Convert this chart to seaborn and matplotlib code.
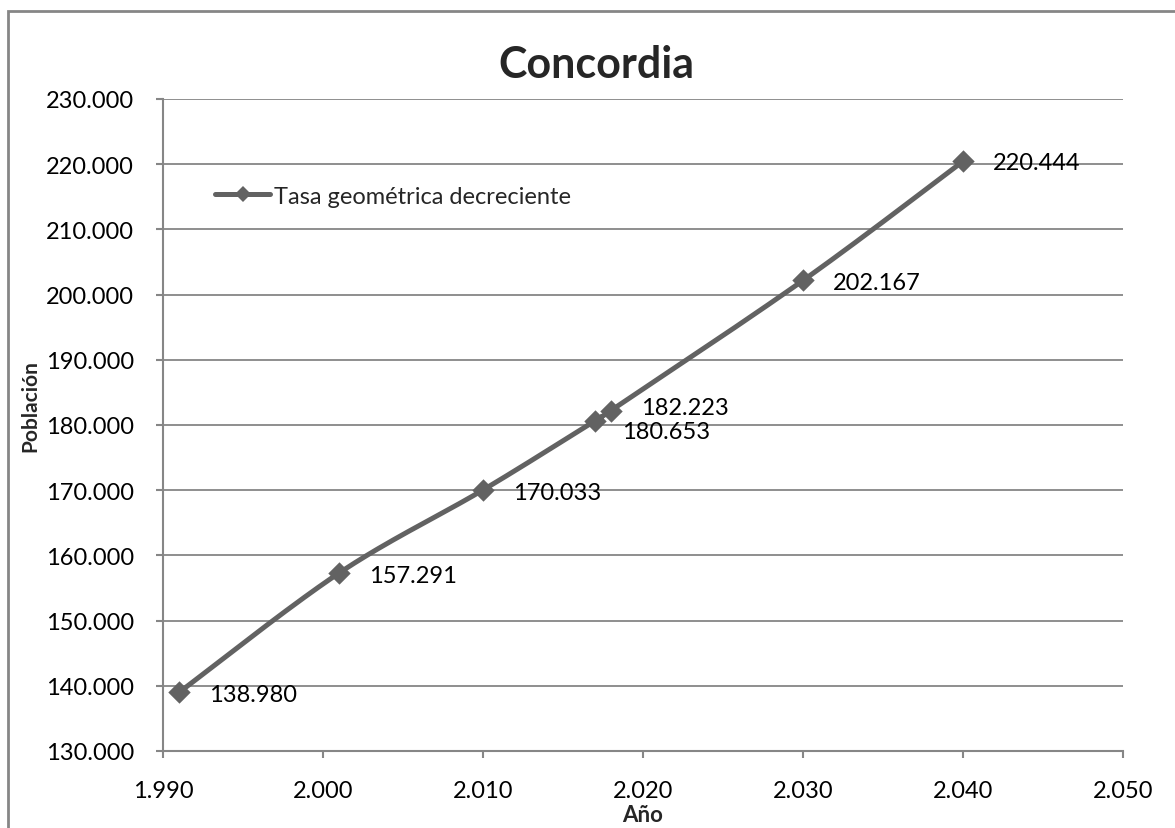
import numpy as np
import pandas as pd
import matplotlib
matplotlib.use("Agg")
import matplotlib.pyplot as plt
from matplotlib.lines import Line2D
from matplotlib.patches import Rectangle
from matplotlib.ticker import FuncFormatter, MultipleLocator
import seaborn as sns

years = [1991, 2001, 2010, 2017, 2018, 2030, 2040]
population = [138980, 157291, 170033, 180653, 182223, 202167, 220444]
series_name = "Tasa geométrica decreciente"
# label offsets in points (dx, dy) for each data label
label_offsets = [(21.5, -1.5), (21.5, -1.5), (21.5, -1.5), (19.5, -8), (21.5, 2), (21.5, -1.5), (21.5, -1)]

sns.set_theme(style="white")
plt.rcParams["font.family"] = ["Lato", "DejaVu Sans"]

GRAY = "#868686"
LINE = "#626262"
W, H = 1175, 829


def fmt_thousands(v, _pos=None):
    return f"{int(round(v)):,}".replace(",", ".")


def smooth_curve(xs, ys, sx, sy, n=40):
    # smoothed line: cubic Bezier segments, computed in screen-scaled units
    px = np.asarray(xs, float) * sx
    py = np.asarray(ys, float) * sy
    P = np.column_stack([px, py])
    out = []
    m = len(P)
    for i in range(m - 1):
        p0 = P[i - 1] if i > 0 else P[i]
        p1, p2 = P[i], P[i + 1]
        p3 = P[i + 2] if i + 2 < m else P[i + 1]
        c1 = p1 + (p2 - p0) / 6.0
        c2 = p2 - (p3 - p1) / 6.0
        t = np.linspace(0, 1, n)[:, None]
        seg = ((1 - t) ** 3) * p1 + 3 * ((1 - t) ** 2) * t * c1 + 3 * (1 - t) * t ** 2 * c2 + t ** 3 * p2
        out.append(seg if i == 0 else seg[1:])
    pts = np.vstack(out)
    return pts[:, 0] / sx, pts[:, 1] / sy


fig = plt.figure(figsize=(W / 100, H / 100), dpi=100)
fig.patch.set_facecolor("white")
ax = fig.add_axes([163 / W, 1 - 752 / H, 960 / W, 652 / H])

sx = 960 / 60.0
sy = 652 / 100000.0
cx, cy = smooth_curve(years, population, sx, sy)
curve = pd.DataFrame({"Año": cx, "Población": cy})
points = pd.DataFrame({"Año": years, "Población": population})

sns.lineplot(data=curve, x="Año", y="Población", ax=ax, color=LINE, linewidth=3.6,
             sort=False, estimator=None, zorder=3)
sns.scatterplot(data=points, x="Año", y="Población", ax=ax, color=LINE, marker="D",
                s=130, edgecolor=LINE, linewidth=0, zorder=4)

for x, y, (dx, dy) in zip(years, population, label_offsets):
    ax.annotate(fmt_thousands(y), (x, y), xytext=(dx, dy), textcoords="offset points",
                fontsize=17, color="black", ha="left", va="center")

ax.set_xlim(1990, 2050)
ax.set_ylim(130000, 230000)
ax.xaxis.set_major_locator(MultipleLocator(10))
ax.yaxis.set_major_locator(MultipleLocator(10000))
ax.xaxis.set_major_formatter(FuncFormatter(fmt_thousands))
ax.yaxis.set_major_formatter(FuncFormatter(fmt_thousands))

ax.grid(axis="y", color=GRAY, linewidth=1.3)
ax.grid(axis="x", visible=False)
ax.set_axisbelow(True)
for side in ["top", "right"]:
    ax.spines[side].set_visible(False)
for side in ["left", "bottom"]:
    ax.spines[side].set_color(GRAY)
    ax.spines[side].set_linewidth(1.5)
ax.tick_params(axis="both", which="major", direction="out", length=5, width=1.5,
               color=GRAY, labelsize=17, labelcolor="black")
ax.tick_params(axis="y", pad=16)
ax.tick_params(axis="x", pad=16)
ax.tick_params(left=True, bottom=True)
ax.set_xlabel("")
ax.set_ylabel("")

fig.text(596 / W, 1 - 65 / H, "Concordia", fontsize=31, fontweight="bold",
         ha="center", va="center")
fig.text(643 / W, 1 - 816 / H, "Año", fontsize=16, fontweight="bold",
         ha="center", va="center")
fig.text(30 / W, 1 - 406 / H, "Población", fontsize=15, fontweight="bold",
         ha="center", va="center", rotation=90)

handle = Line2D([], [], color=LINE, linewidth=3.6, marker="D", markersize=8,
                markeredgewidth=0)
ax.legend([handle], [series_name], loc="center left",
          bbox_to_anchor=(215 / W, 1 - 197 / H), bbox_transform=fig.transFigure,
          frameon=False, fontsize=17, handlelength=2.35, handletextpad=0.15,
          borderpad=0, borderaxespad=0)

# chart area border
fig.patches.append(Rectangle((8 / W, -0.05), 1.2, 1.05 - 12 / H,
                             transform=fig.transFigure, fill=False,
                             edgecolor=GRAY, linewidth=2))

fig.savefig("out.png", dpi=100)
